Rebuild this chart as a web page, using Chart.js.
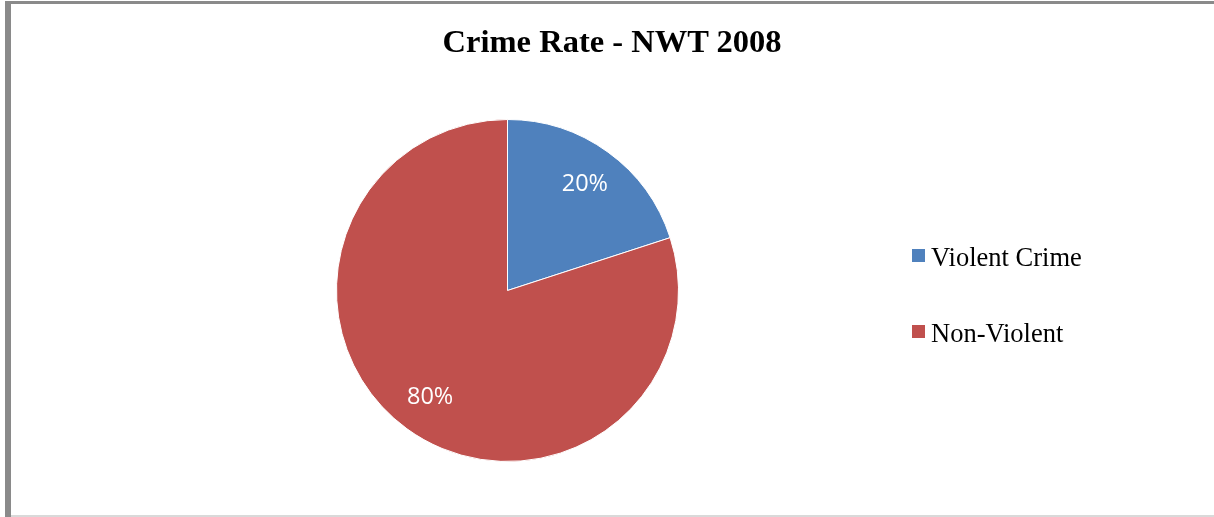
<!DOCTYPE html>
<html>
<head>
<meta charset="utf-8">
<script src="https://cdn.jsdelivr.net/npm/chart.js@4"></script>
<style>
  html, body { margin: 0; padding: 0; background: #fff; }
  #wrap { position: relative; width: 1214px; height: 517px; overflow: hidden; }
  #frameTop { position: absolute; left: 5px; top: 1px; width: 1209px; height: 3px; background: #8a8a8a; }
  #frameLeft { position: absolute; left: 5px; top: 1px; width: 6px; height: 516px; background: #8a8a8a; }
  #frameBottom { position: absolute; left: 11px; top: 515px; width: 1203px; height: 2px; background: #d9d9d9; }
  #title { position: absolute; left: 0; width: 1224px; top: 22px; text-align: center;
    font-family: "Liberation Serif", serif; font-weight: bold; font-size: 32.5px; line-height: 38px; color: #000; }
  #legend { position: absolute; left: 912px; top: 242px; font-family: "Liberation Serif", serif; font-size: 26.5px; line-height: 30px; color: #000; }
  .item { height: 76px; display: flex; align-items: flex-start; }
  .box { width: 13px; height: 13px; margin-top: 7px; margin-right: 6px; }
  canvas { position: absolute; left: 0; top: 0; }
</style>
</head>
<body>
<div id="wrap">
  <canvas id="pieChart" width="1214" height="517"></canvas>
  <div id="frameTop"></div>
  <div id="frameLeft"></div>
  <div id="frameBottom"></div>
  <div id="title">Crime Rate - NWT 2008</div>
  <div id="legend"></div>
</div>
<script>
const categories = ['Violent Crime', 'Non-Violent'];
const shares = [20, 80];
const colors = ['#4F81BD', '#C0504D'];

// legend built from the same arrays
const legendEl = document.getElementById('legend');
categories.forEach((name, i) => {
  const row = document.createElement('div');
  row.className = 'item';
  row.innerHTML = '<div class="box" style="background:' + colors[i] + '"></div><span>' + name + '</span>';
  legendEl.appendChild(row);
});

// percentage labels inside the slices
const sliceLabels = {
  id: 'sliceLabels',
  afterDatasetsDraw(chart) {
    const ctx = chart.ctx;
    const meta = chart.getDatasetMeta(0);
    ctx.save();
    ctx.fillStyle = '#fff';
    ctx.font = '23.5px "Open Sans"';
    ctx.textAlign = 'center';
    ctx.textBaseline = 'middle';
    meta.data.forEach((arc, i) => {
      const p = arc.getProps(['x', 'y', 'startAngle', 'endAngle', 'outerRadius']);
      const mid = (p.startAngle + p.endAngle) / 2;
      const r = p.outerRadius * 0.77;
      ctx.fillText(shares[i] + '%', p.x + Math.cos(mid) * r, p.y + Math.sin(mid) * r);
    });
    ctx.restore();
  }
};

new Chart(document.getElementById('pieChart').getContext('2d'), {
  type: 'pie',
  data: {
    labels: categories,
    datasets: [{
      data: shares,
      backgroundColor: colors,
      borderColor: '#fff',
      borderWidth: 1
    }]
  },
  options: {
    responsive: false,
    animation: false,
    layout: { padding: { top: 119, bottom: 55, left: 336, right: 535 } },
    plugins: {
      legend: { display: false },
      tooltip: { enabled: false },
      title: { display: false }
    }
  },
  plugins: [sliceLabels]
});
</script>
</body>
</html>
